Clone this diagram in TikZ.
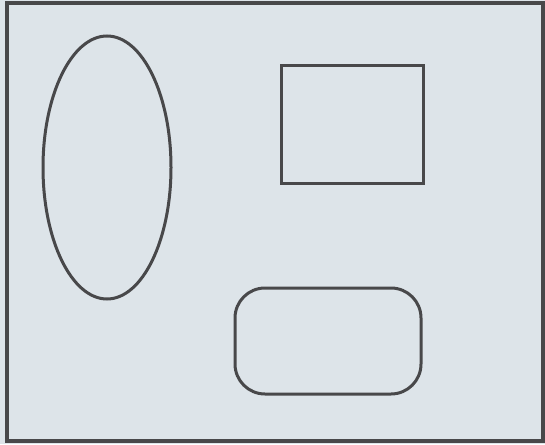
\documentclass[tikz,border=0pt]{standalone}
\usepackage{tikz}
\usetikzlibrary{shapes.geometric}
\definecolor{paper}{RGB}{221,228,233}
\definecolor{ink}{RGB}{72,72,74}

\begin{document}
\begin{tikzpicture}[x=1pt,y=-1pt,
  outline/.style={draw=ink,line width=3pt,inner sep=0pt,outer sep=0pt}]
\useasboundingbox (0,0) rectangle (545,444);
\fill[paper] (0,0) rectangle (545,444);
% frame round the whole sheet
\draw[ink,line width=3.6pt] (7,3) rectangle (543,441);
\node[outline,ellipse,minimum width=128pt,minimum height=263pt] (oval) at (107,167.5){};
\node[outline,rectangle,minimum width=142pt,minimum height=118pt] (box) at (352,124){};
\node[outline,rectangle,rounded corners=30pt,minimum width=186pt,minimum height=106pt] (pill) at (328,341){};
\end{tikzpicture}
\end{document}
